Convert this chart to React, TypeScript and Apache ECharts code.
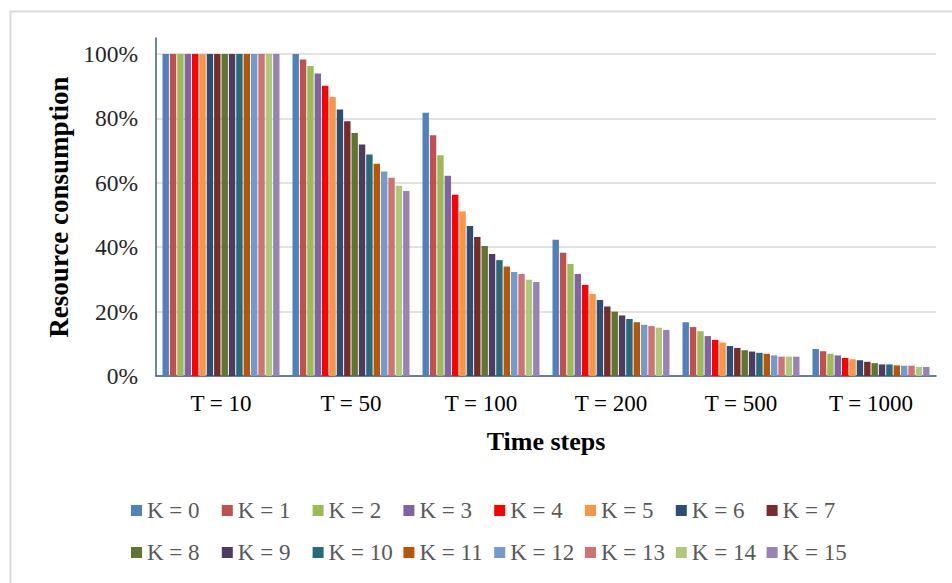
import React, { useEffect, useRef } from "react";
import * as echarts from "echarts";

const categories = ["T = 10", "T = 50", "T = 100", "T = 200", "T = 500", "T = 1000"];
const seriesNames = [
  "K = 0", "K = 1", "K = 2", "K = 3", "K = 4", "K = 5", "K = 6", "K = 7",
  "K = 8", "K = 9", "K = 10", "K = 11", "K = 12", "K = 13", "K = 14", "K = 15",
];
const colors = [
  "#4F81BD", "#C0504D", "#9BBB59", "#8064A2", "#FF0000", "#F79646", "#2C4D75", "#772C2A",
  "#5F7530", "#4D3B62", "#276A7C", "#B65708", "#729ACA", "#CD7371", "#AFC97A", "#9983B5",
];
// values (%) per time step, one per K = 0..15
const t10 = [100, 100, 100, 100, 100, 100, 100, 100, 100, 100, 100, 100, 100, 100, 100, 100];
const t50 = [100, 98.3, 96.3, 94.0, 90.2, 86.7, 82.8, 79.1, 75.5, 71.9, 68.8, 65.9, 63.5, 61.6, 59.1, 57.5];
const t100 = [81.8, 74.8, 68.6, 62.2, 56.3, 51.1, 46.6, 43.2, 40.4, 37.9, 36.0, 34.0, 32.3, 31.7, 29.9, 29.2];
const t200 = [42.3, 38.3, 34.8, 31.7, 28.3, 25.5, 23.6, 21.6, 20.0, 18.8, 17.7, 16.7, 15.9, 15.5, 15.0, 14.3];
const t500 = [16.7, 15.2, 13.9, 12.4, 11.2, 10.4, 9.3, 8.7, 8.0, 7.6, 7.2, 6.9, 6.4, 6.0, 6.0, 6.0];
const t1000 = [8.4, 7.7, 6.9, 6.4, 5.6, 5.2, 4.9, 4.4, 4.0, 3.6, 3.6, 3.3, 3.2, 3.2, 2.8, 2.8];
const yTicks = [0, 20, 40, 60, 80, 100];

const groups = [t10, t50, t100, t200, t500, t1000];
const FONT = '"Liberation Serif", "Times New Roman", serif';

export default function App() {
  const ref = useRef<HTMLDivElement>(null);

  useEffect(() => {
    if (!ref.current) return;
    const chart = echarts.init(ref.current, undefined, { renderer: "svg" });

    const series = seriesNames.map((name, k) => ({
      name,
      type: "bar",
      data: groups.map((g) => g[k]),
      itemStyle: { color: colors[k] },
      barGap: "15%",
      barCategoryGap: "10%",
    }));

    const legends = seriesNames.map((name, k) => {
      const row = Math.floor(k / 8);
      const col = k % 8;
      return {
        data: [name],
        left: 131 + col * 90.8,
        top: row === 0 ? 499 : 541,
        padding: 0,
        icon: "rect",
        itemWidth: 11,
        itemHeight: 11,
        textStyle: { fontFamily: FONT, fontSize: 23, color: "#595959" },
      };
    });

    chart.setOption({
      animation: false,
      backgroundColor: "#ffffff",
      color: colors,
      graphic: [
        {
          type: "rect",
          left: 8,
          top: 9,
          shape: { width: 960, height: 573 },
          style: { fill: "none", stroke: "#d9d9d9", lineWidth: 2 },
          silent: true,
        },
      ],
      grid: { left: 156, right: 16, top: 38, bottom: 207, containLabel: false },
      legend: legends,
      xAxis: {
        type: "category",
        data: categories,
        axisLine: { show: true, lineStyle: { color: "#385D8A", width: 1.5 } },
        axisTick: { show: false },
        axisLabel: { fontFamily: FONT, fontSize: 23, color: "#000000", margin: 16 },
        name: "Time steps",
        nameLocation: "middle",
        nameGap: 52,
        nameTextStyle: { fontFamily: FONT, fontSize: 26, fontWeight: "bold", color: "#000000" },
      },
      yAxis: {
        type: "value",
        min: 0,
        max: 105,
        interval: 20,
        axisLine: { show: true, lineStyle: { color: "#385D8A", width: 1.5 } },
        axisTick: { show: false },
        axisLabel: {
          fontFamily: FONT,
          fontSize: 23.5,
          color: "#262626",
          margin: 18,
          showMaxLabel: false,
          formatter: (v: number) => (yTicks.includes(v) ? v + "%" : ""),
        },
        splitLine: { show: true, showMaxLine: false, lineStyle: { color: "#d9d9d9", width: 1.5 } },
        name: "Resource consumption",
        nameLocation: "middle",
        nameGap: 82,
        nameRotate: 90,
        nameTextStyle: { fontFamily: FONT, fontSize: 27, fontWeight: "bold", color: "#000000" },
      },
      series,
    });

    return () => chart.dispose();
  }, []);

  return (
    <div
      ref={ref}
      style={{ position: "absolute", left: 0, top: 0, width: 952, height: 583, background: "#fff" }}
    />
  );
}
